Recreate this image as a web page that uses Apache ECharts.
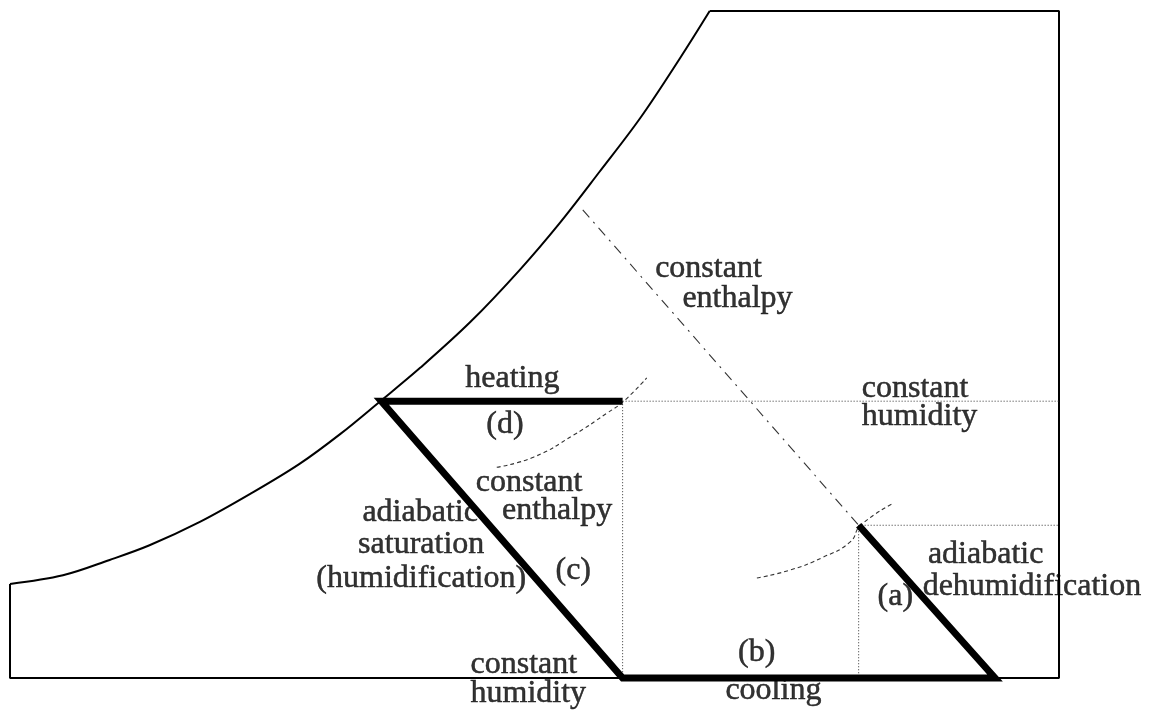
<!DOCTYPE html>
<html>
<head>
<meta charset="utf-8">
<script src="https://cdn.jsdelivr.net/npm/echarts@6/dist/echarts.min.js"></script>
<style>
  html, body { margin: 0; padding: 0; background: #ffffff; }
  #chart { width: 1149px; height: 711px; }
</style>
</head>
<body>
<div id="chart"></div>
<script>
// Air-conditioning processes on a schematic psychrometric chart.
// x: dry-bulb temperature (0-100, schematic units), y: humidity ratio (0-100, schematic units)

const saturationCurve = [
  [0, 14.1], [5.05, 15.4], [9.5, 17.7], [13.3, 19.9], [18.1, 23.4], [22.9, 27.6],
  [27.6, 32.1], [31.5, 36.6], [35.3, 41.5], [39.1, 46.5], [43.9, 53.4], [48.6, 61.2],
  [52.4, 68.2], [56.2, 75.9], [60.1, 84.0], [63.9, 93.0], [66.7, 100]
];
const chartFrame = [[66.7, 100], [100, 100], [100, 0], [0, 0], [0, 14.1]];

// process states
const stateA = [80.9, 22.9];   // before adiabatic dehumidification
const stateB = [93.9, 0];      // after (a), before cooling
const stateC = [58.4, 0];      // after cooling, before humidification
const stateD = [35.4, 41.5];   // saturated, before heating
const stateE = [58.4, 41.5];   // after heating

// (d) heating, (c) adiabatic saturation, (b) cooling, (a) adiabatic dehumidification
const processPath = [stateE, stateD, stateC, stateB, stateA];

const humidityGuides = [
  [stateE, [100, 41.5]],
  [stateA, [100, 22.9]],
  [stateE, stateC],
  [stateA, [80.9, 0]]
];
const enthalpyLine = [[54.6, 70.2], stateA];
const enthalpyArcUpper = [[46.4, 31.6], [49.9, 33.1], [53.7, 36.4], [56.9, 39.7], [58.5, 41.5], [60.7, 45.0]];
const enthalpyArcLower = [[71.2, 15.0], [74.4, 16.2], [77.5, 18.1], [80.1, 20.4], [81.1, 22.9], [84.2, 26.2]];

// annotation text and where it sits (left/centre x, baseline y, alignment)
const annotationTexts = [
  'constant', 'enthalpy', 'heating', '(d)', 'constant', 'humidity',
  'constant', 'enthalpy', 'adiabatic', 'saturation', '(humidification)', '(c)',
  'adiabatic', 'dehumidification', '(a)', '(b)', 'constant', 'humidity', 'cooling'
];
const annotationPlacement = [
  [61.5, 60.1, 'left'], [64.1, 55.5, 'left'], [43.4, 43.5, 'left'], [45.4, 36.7, 'left'],
  [81.2, 42.1, 'left'], [81.2, 37.9, 'left'],
  [44.4, 28.0, 'left'], [46.9, 23.7, 'left'],
  [39.1, 23.4, 'center'], [39.2, 18.6, 'center'], [39.2, 13.5, 'center'], [52.0, 14.7, 'left'],
  [87.5, 17.2, 'left'], [87.0, 12.4, 'left'], [82.7, 10.9, 'left'], [69.4, 2.4, 'left'],
  [43.9, 0.7, 'left'], [43.9, -3.7, 'left'], [68.2, -3.3, 'left']
];

const FONT = 'Liberation Serif, Times New Roman, serif';
const FONT_SIZE = 32;
const BASELINE_SHIFT = 9; // px from text middle to alphabetic baseline

const chart = echarts.init(document.getElementById('chart'), null, { renderer: 'canvas' });

function lineSeries(data, style, smooth) {
  return {
    type: 'line', data: data, symbol: 'none', silent: true, clip: false,
    smooth: smooth || false, lineStyle: style, z: style.z || 2
  };
}

const series = [
  lineSeries(saturationCurve, { color: '#000', width: 2 }, 0.35),
  lineSeries(chartFrame, { color: '#000', width: 2 }),
  lineSeries(enthalpyLine, { color: '#333', width: 1.1, type: [10, 6, 2, 6] }),
  lineSeries(enthalpyArcUpper, { color: '#333', width: 1.1, type: [4, 3] }, 0.5),
  lineSeries(enthalpyArcLower, { color: '#333', width: 1.1, type: [4, 3] }, 0.5)
];
humidityGuides.forEach(g => {
  series.push(lineSeries(g, { color: '#333', width: 1, type: [1, 2] }));
});
series.push(lineSeries(processPath, { color: '#000', width: 7, join: 'miter', miterLimit: 10, cap: 'butt', z: 5 }));

series.push({
  type: 'scatter', silent: true, symbolSize: 0, clip: false, z: 6,
  data: annotationTexts.map((t, i) => {
    const p = annotationPlacement[i];
    return {
      name: t,
      value: [p[0], p[1]],
      label: {
        show: true, position: [0, 0], formatter: '{b}',
        align: p[2], verticalAlign: 'middle', offset: [0, -BASELINE_SHIFT],
        fontFamily: FONT, fontSize: FONT_SIZE, color: '#000',
        textBorderColor: '#000', textBorderWidth: 0.5
      }
    };
  })
});

chart.setOption({
  animation: false,
  backgroundColor: '#ffffff',
  grid: { left: 10, right: 90, top: 11, bottom: 33 },
  xAxis: { type: 'value', min: 0, max: 100, show: false },
  yAxis: { type: 'value', min: 0, max: 100, show: false },
  series: series
});
</script>
</body>
</html>
